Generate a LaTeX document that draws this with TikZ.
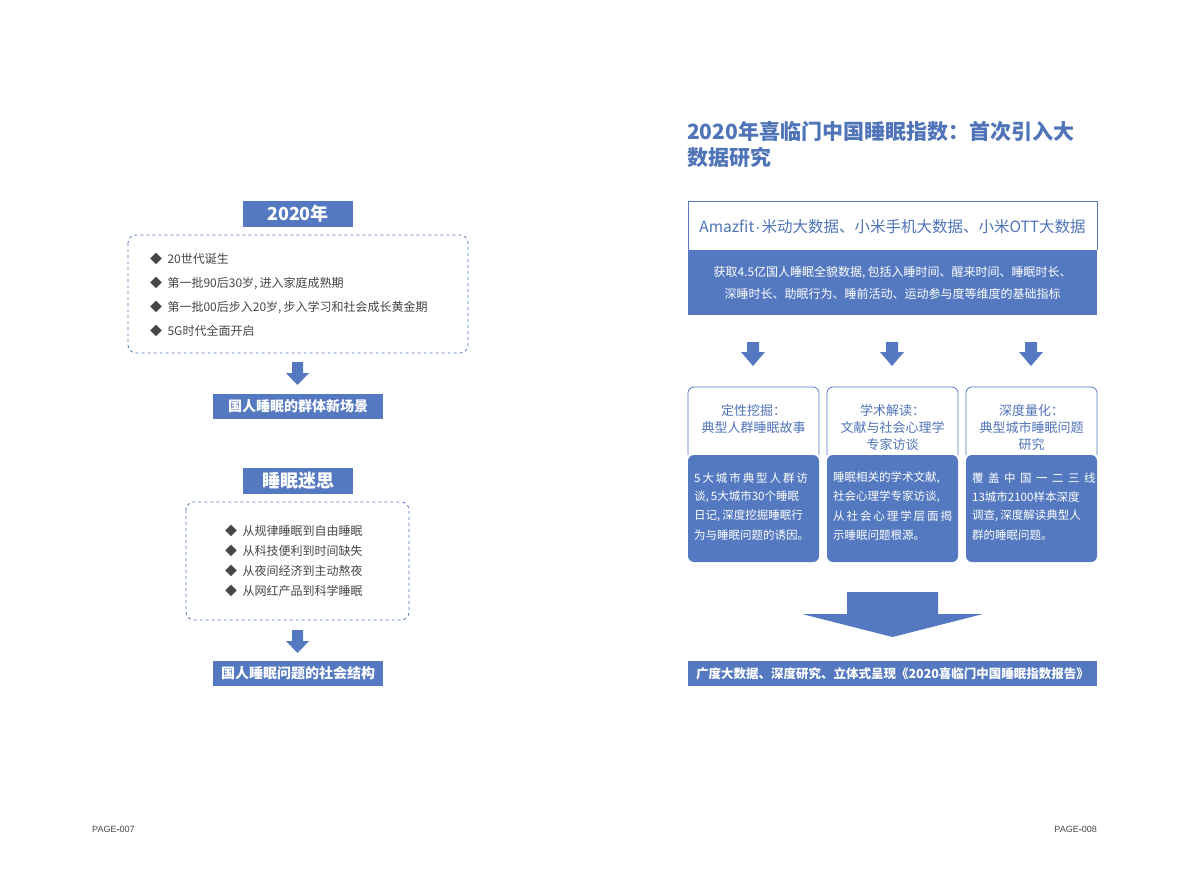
\documentclass[tikz,border=0pt]{standalone}
\usepackage{fontspec}
\setmainfont{Noto Sans CJK SC}
\newfontfamily\lat{Liberation Sans}
\definecolor{bl}{RGB}{84,121,192}
\definecolor{tb}{RGB}{79,116,184}
\definecolor{gt}{RGB}{70,70,70}
\newcommand{\cm}{,\kern2pt}
\begin{document}
\begin{tikzpicture}[x=1pt,y=-1pt,
  tag/.style={fill=bl,text=white,inner sep=0pt},
  dbox/.style={draw=bl,dashed,rounded corners=8pt,line width=0.8pt},
  itm/.style={anchor=west,text=gt,font=\fontsize{12}{14}\selectfont,inner sep=0pt},
  dar/.style={fill=bl},
  ctitle/.style={text=tb,align=center,anchor=north,font=\fontsize{13}{17}\selectfont,inner sep=0pt},
  cbody/.style={text=white,anchor=west,font=\fontsize{11.5}{14}\selectfont,inner sep=0pt}]
\useasboundingbox (0,0) rectangle (1190,877);
\fill[white] (0,0) rectangle (1190,877);
% left top
\node[tag,minimum width=110pt,minimum height=26pt,font=\fontsize{18}{20}\selectfont\bfseries] (y2020) at (298,214) {2020年};
\draw[dbox] (128,235) rectangle (468,353);
\node[itm] (i1) at (150,259) {◆\ \ 20世代诞生};
\node[itm] (i2) at (150,283) {◆\ \ 第一批90后30岁\cm 进入家庭成熟期};
\node[itm] (i3) at (150,307) {◆\ \ 第一批00后步入20岁\cm 步入学习和社会成长黄金期};
\node[itm] (i4) at (150,331) {◆\ \ 5G时代全面开启};
\fill[dar] (292,362) -- (303,362) -- (303,373) -- (309,373) -- (297.5,385) -- (286,373) -- (292,373) -- cycle;
\node[tag,minimum width=170pt,minimum height=25pt,font=\fontsize{14}{16}\selectfont\bfseries] (l1) at (298,406.5) {国人睡眠的群体新场景};
% left bottom
\node[tag,minimum width=110pt,minimum height=26pt,font=\fontsize{18}{20}\selectfont\bfseries] (ms) at (298,481) {睡眠迷思};
\draw[dbox] (186,502) rectangle (409,620);
\node[itm] (j1) at (225,531) {◆\ \ 从规律睡眠到自由睡眠};
\node[itm] (j2) at (225,551) {◆\ \ 从科技便利到时间缺失};
\node[itm] (j3) at (225,571) {◆\ \ 从夜间经济到主动熬夜};
\node[itm] (j4) at (225,591) {◆\ \ 从网红产品到科学睡眠};
\fill[dar] (292,630) -- (303,630) -- (303,641) -- (309,641) -- (297.5,653) -- (286,641) -- (292,641) -- cycle;
\node[tag,minimum width=170pt,minimum height=25pt,font=\fontsize{14}{16}\selectfont\bfseries] (l2) at (298,673.5) {国人睡眠问题的社会结构};
% right title
\node[anchor=west,text=tb,font=\fontsize{21}{26}\selectfont\bfseries,align=left,inner sep=0pt] (title) at (687,145) {2020年喜临门中国睡眠指数：首次引入大\\数据研究};
% top box
\fill[bl] (688,250) rectangle (1097,315);
\draw[bl,line width=0.8pt] (688,250) -- (688,201) -- (1097,201) -- (1097,250);
\node[text=tb,font=\fontsize{15.5}{18}\selectfont,inner sep=0pt] (src) at (892.5,227) {Amazfit{\lat\kern1pt·\kern1pt}米动大数据、小米手机大数据、小米OTT大数据};
\node[text=white,align=center,font=\fontsize{12}{22}\selectfont,inner sep=0pt] (desc) at (892.5,283) {获取4.5亿国人睡眠全貌数据\cm 包括入睡时间、醒来时间、睡眠时长、\\深睡时长、助眠行为、睡前活动、运动参与度等维度的基础指标};
% small arrows
\foreach \cx in {753,892,1031}{
  \fill[dar] (\cx-6,342) -- (\cx+6,342) -- (\cx+6,352) -- (\cx+12,352) -- (\cx,366) -- (\cx-12,352) -- (\cx-6,352) -- cycle;}
% cards
\foreach \xa in {688,827,966}{
  \fill[bl,rounded corners=6pt] (\xa,455) -- (\xa,562) -- (\xa+131,562) -- (\xa+131,455) -- cycle;
  \draw[bl,line width=0.8pt,rounded corners=6pt] (\xa,455) -- (\xa,387) -- (\xa+131,387) -- (\xa+131,455);
}
\node[ctitle] (c1t) at (753.5,404) {定性挖掘：\\典型人群睡眠故事};
\node[ctitle] (c2t) at (892.5,404) {学术解读：\\文献与社会心理学\\专家访谈};
\node[ctitle] (c3t) at (1031.5,404) {深度量化：\\典型城市睡眠问题\\研究};
\node[cbody] at (694,478) {5\,大\,城\,市\,典\,型\,人\,群\,访};
\node[cbody] at (694,497) {谈\cm 5大城市30个睡眠};
\node[cbody] at (694,516) {日记\cm 深度挖掘睡眠行};
\node[cbody] at (694,535) {为与睡眠问题的诱因。};
\node[cbody] at (833,478) {睡眠相关的学术文献\cm};
\node[cbody] at (833,497) {社会心理学专家访谈\cm};
\node[cbody] at (833,516) {从\,社\,会\,心\,理\,学\,层\,面\,揭};
\node[cbody] at (833,535) {示睡眠问题根源。};
\node[cbody] at (972,478) {覆\ \,盖\ \,中\ \,国\ \,一\ \,二\ \,三\ \,线};
\node[cbody] at (972,497) {13城市2100样本深度};
\node[cbody] at (972,516) {调查\cm 深度解读典型人};
\node[cbody] at (972,535) {群的睡眠问题。};
% big arrow
\fill[dar] (847,592) -- (938,592) -- (938,614) -- (983,614) -- (892.5,637) -- (802,614) -- (847,614) -- cycle;
\node[tag,minimum width=409pt,minimum height=25pt,font=\fontsize{12.5}{15}\selectfont\bfseries] (res) at (892.5,673.5) {广度大数据、深度研究、立体式呈现《2020喜临门中国睡眠指数报告》};
% pages
\node[anchor=west,text=gt,font=\lat\fontsize{9}{10}\selectfont,inner sep=0pt] (p7) at (92,829) {PAGE{\bfseries-}007};
\node[anchor=east,text=gt,font=\lat\fontsize{9}{10}\selectfont,inner sep=0pt] (p8) at (1097,829) {PAGE{\bfseries-}008};
\end{tikzpicture}
\end{document}
